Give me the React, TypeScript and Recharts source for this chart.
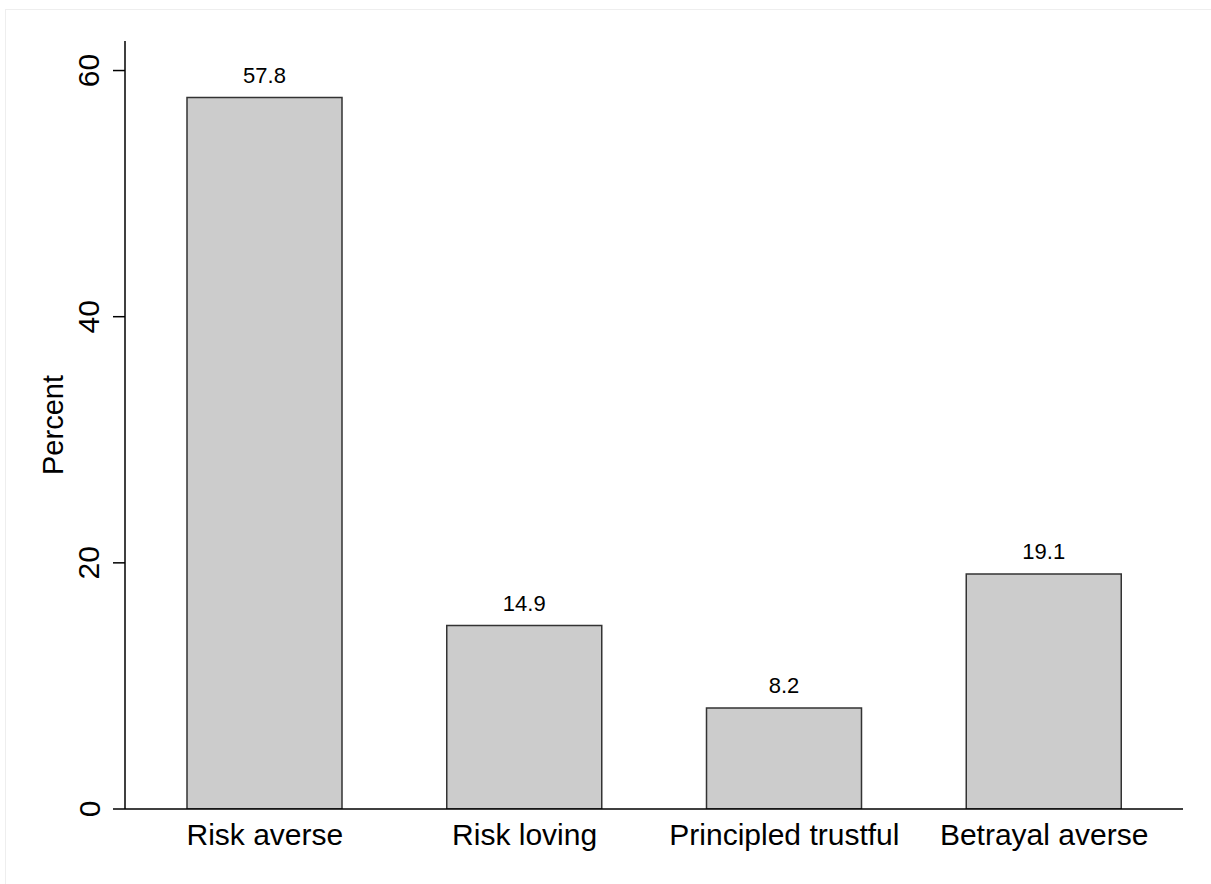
import { Bar, BarChart, LabelList, XAxis, YAxis } from "recharts";

const categories = [
  "Risk averse",
  "Risk loving",
  "Principled trustful",
  "Betrayal averse",
];
const percents = [57.8, 14.9, 8.2, 19.1];
const yTicks = [0, 20, 40, 60];

const data = categories.map((name, i) => ({ name, value: percents[i] }));

const font = "'Liberation Sans', Arial, Helvetica, sans-serif";

function YTick({ y, payload }: any) {
  const cx = 89;
  return (
    <text
      x={cx}
      y={y}
      transform={`rotate(-90, ${cx}, ${y})`}
      textAnchor="middle"
      dominantBaseline="central"
      fontSize={30}
      fontFamily={font}
      fill="#000"
    >
      {payload.value}
    </text>
  );
}

function XTick({ x, payload }: any) {
  return (
    <text
      x={x}
      y={845}
      textAnchor="middle"
      fontSize={30}
      fontFamily={font}
      fill="#000"
    >
      {payload.value}
    </text>
  );
}

function ValueLabel({ x, y, width, value }: any) {
  return (
    <text
      x={x + width / 2}
      y={y - 15}
      textAnchor="middle"
      fontSize={22}
      fontFamily={font}
      fill="#000"
    >
      {Number(value).toFixed(1)}
    </text>
  );
}

export default function App() {
  return (
    <div
      style={{
        position: "absolute",
        left: 0,
        top: 0,
        width: 1211,
        height: 884,
        background: "#fff",
      }}
    >
      <div
        style={{
          position: "absolute",
          left: 5,
          top: 9,
          width: 1210,
          height: 880,
          borderTop: "1px solid #eeeeee",
          borderLeft: "1px solid #eeeeee",
        }}
      />
      <BarChart
        width={1211}
        height={884}
        data={data}
        margin={{ top: 41, right: 28, bottom: 0, left: 0 }}
        style={{ position: "absolute", left: 0, top: 0 }}
      >
        <XAxis
          dataKey="name"
          padding={{ left: 10, right: 9 }}
          axisLine={{ stroke: "#000", strokeWidth: 1.5 }}
          tickLine={false}
          tick={<XTick />}
          interval={0}
          height={75}
        />
        <YAxis
          width={125}
          domain={[0, 62.4]}
          ticks={yTicks}
          allowDataOverflow
          axisLine={{ stroke: "#000", strokeWidth: 1.5 }}
          tickLine={{ stroke: "#000", strokeWidth: 1.5 }}
          tickSize={12}
          tick={<YTick />}
          label={{
            value: "Percent",
            angle: -90,
            position: "insideLeft",
            dx: 48,
            fontSize: 29,
            fontFamily: font,
            fill: "#000",
            style: { textAnchor: "middle" },
          }}
        />
        <Bar
          dataKey="value"
          barSize={155}
          fill="#cccccc"
          stroke="#333333"
          strokeWidth={1.5}
          isAnimationActive={false}
        >
          <LabelList dataKey="value" content={<ValueLabel />} />
        </Bar>
      </BarChart>
    </div>
  );
}
